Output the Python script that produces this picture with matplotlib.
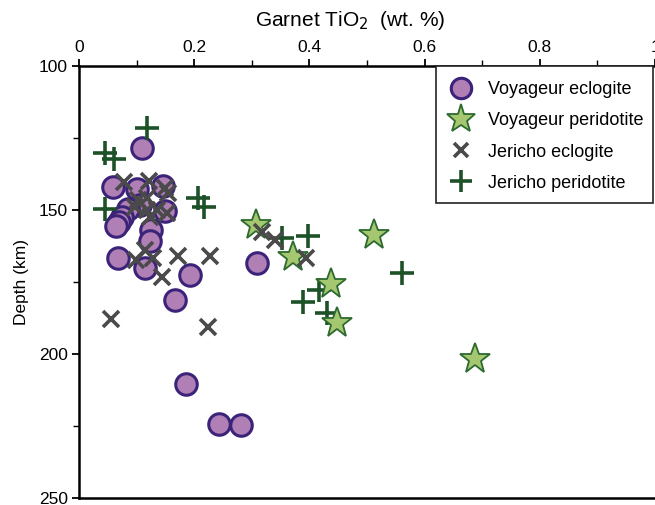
import matplotlib
matplotlib.use("Agg")
import matplotlib.pyplot as plt
from matplotlib.patches import Rectangle
from matplotlib.ticker import MultipleLocator

plt.rcParams['font.family'] = ['Liberation Sans', 'DejaVu Sans']

# Voyageur eclogite (garnet TiO2 wt.%, depth km)
voy_ecl_tio2 = [0.109, 0.059, 0.101, 0.146, 0.149, 0.106, 0.085, 0.075, 0.069, 0.064,
                0.125, 0.123, 0.068, 0.114, 0.193, 0.167, 0.185, 0.243, 0.281, 0.309]
voy_ecl_depth = [128.5, 142.1, 142.8, 141.8, 150.5, 148.4, 149.8, 152.5, 154.3, 155.7,
                 157.1, 160.9, 166.5, 170.3, 172.7, 181.4, 210.3, 224.2, 224.6, 168.5]

# Voyageur peridotite
voy_per_tio2 = [0.308, 0.372, 0.513, 0.437, 0.448, 0.687]
voy_per_depth = [155.3, 166.4, 158.8, 175.6, 189.3, 201.7]

# Jericho eclogite
jer_ecl_tio2 = [0.078, 0.121, 0.149, 0.154, 0.102, 0.118, 0.097, 0.118, 0.135, 0.153,
                0.123, 0.114, 0.099, 0.128, 0.172, 0.227, 0.144, 0.224, 0.055, 0.317,
                0.340, 0.394]
jer_ecl_depth = [140.4, 140.0, 142.5, 144.2, 146.6, 145.9, 149.1, 150.1, 150.1, 151.1,
                 152.5, 164.0, 167.5, 166.5, 165.8, 166.1, 173.4, 190.5, 187.7, 157.6,
                 160.5, 166.8]

# Jericho peridotite
jer_per_tio2 = [0.118, 0.045, 0.061, 0.046, 0.206, 0.217, 0.352, 0.398, 0.561, 0.416,
                0.389, 0.430]
jer_per_depth = [121.6, 130.3, 132.4, 149.5, 145.9, 149.1, 159.6, 159.0, 171.8, 177.9,
                 182.0, 185.8]

W, H = 655, 505
fig = plt.figure(figsize=(W / 100, H / 100), dpi=100)
ax = fig.add_axes([79 / W, 1 - 498 / H, 1 - 79 / W, (498 - 66) / H])

ax.plot(voy_ecl_tio2, voy_ecl_depth, 'o', ls='none', ms=15.5, mfc='#b07fb5',
        mec='#3a2378', mew=2.2, label='Voyageur eclogite', zorder=2)
ax.plot(jer_per_tio2, jer_per_depth, '+', ls='none', ms=17, mec='#1d5228',
        mew=2.6, label='Jericho peridotite', zorder=3)
ax.plot(voy_per_tio2, voy_per_depth, '*', ls='none', ms=23, mfc='#a5c76f',
        mec='#2c6a30', mew=1.3, label='Voyageur peridotite', zorder=4)
ax.plot(jer_ecl_tio2, jer_ecl_depth, 'x', ls='none', ms=11, mec='#4a4a4a',
        mew=2.6, label='Jericho eclogite', zorder=5)

ax.set_xlim(0, 1)
ax.set_ylim(250, 100)
ax.xaxis.set_minor_locator(MultipleLocator(0.1))
ax.yaxis.set_major_locator(MultipleLocator(50))
ax.yaxis.set_minor_locator(MultipleLocator(25))
ax.xaxis.tick_top()
ax.set_xticks([0, 0.2, 0.4, 0.6, 0.8, 1.0])
ax.set_xticklabels(['0', '0.2', '0.4', '0.6', '0.8', '1'])
ax.tick_params(axis='both', which='major', direction='out', length=5, width=1.3,
               labelsize=12.5, pad=3)
ax.tick_params(axis='both', which='minor', direction='out', length=4, width=1.0)
ax.tick_params(axis='x', which='both', bottom=False, top=True)
ax.tick_params(axis='y', which='both', right=False)

for side in ('top', 'left', 'bottom'):
    ax.spines[side].set_linewidth(1.8)
ax.spines['right'].set_visible(False)

fig.text(350 / W, 1 - 20 / H, 'Garnet TiO$_2$  (wt. %)', fontsize=15,
         ha='center', va='center')
ax.set_ylabel('Depth (km)', fontsize=12.5, labelpad=7)

# legend entries without frame, and a plain box drawn behind them
handles, labels = ax.get_legend_handles_labels()
order = ['Voyageur eclogite', 'Voyageur peridotite', 'Jericho eclogite', 'Jericho peridotite']
hmap = dict(zip(labels, handles))
leg = ax.legend([hmap[k] for k in order], order, loc='upper left',
                bbox_to_anchor=(447 / W, 1 - 81 / H), bbox_transform=fig.transFigure,
                borderaxespad=0, borderpad=0, fontsize=13, frameon=False,
                labelspacing=0.79, handletextpad=0.7, handlelength=1.55,
                markerscale=0.95)
leg.set_zorder(10)

x0 = (436 - 79) / 576
x1 = (653 - 79) / 576
y0 = 1 - (203 - 66) / 432
ax.add_patch(Rectangle((x0, y0), x1 - x0, 1 - y0, transform=ax.transAxes,
                       facecolor='white', edgecolor='#222222', lw=1.2, zorder=9,
                       clip_on=False))

fig.savefig('out.png', dpi=100)
